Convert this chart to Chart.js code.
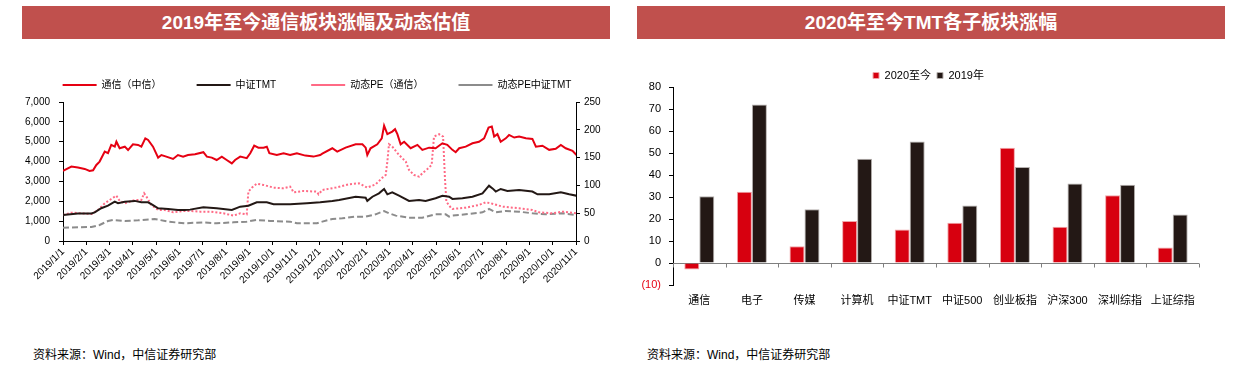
<!DOCTYPE html>
<html>
<head>
<meta charset="utf-8">
<script src="https://cdn.jsdelivr.net/npm/chart.js@4.4.0/dist/chart.umd.min.js"></script>
<style>
  body { margin: 0; width: 1238px; height: 375px; background: #fff; position: relative; overflow: hidden;
         font-family: "Liberation Sans", Arial, "Noto Sans CJK SC", sans-serif; }
  .titlebar { position: absolute; top: 6px; height: 33px; line-height: 33px; background: #c0504d; color: #fff;
              font-weight: bold; font-size: 19px; text-align: center; }
  .source { position: absolute; top: 345px; font-size: 12px; color: #000; }
  canvas { position: absolute; }
</style>
</head>
<body>
<div class="titlebar" style="left:22px;width:588px">2019年至今通信板块涨幅及动态估值</div>
<div class="titlebar" style="left:637px;width:588px">2020年至今TMT各子板块涨幅</div>
<canvas id="lineChart" width="620" height="261" style="left:0;top:40px"></canvas>
<canvas id="barChart" width="608" height="271" style="left:630px;top:40px"></canvas>
<div class="source" style="left:33px">资料来源：Wind，中信证券研究部</div>
<div class="source" style="left:647px">资料来源：Wind，中信证券研究部</div>
<script>
const FONT = '"Liberation Sans", Arial, "Noto Sans CJK SC", sans-serif';

// ---- left chart: month index (0 = 2019/1/1) and value pairs
const monthLabels = ['2019/1/1','2019/2/1','2019/3/1','2019/4/1','2019/5/1','2019/6/1','2019/7/1','2019/8/1',
  '2019/9/1','2019/10/1','2019/11/1','2019/12/1','2020/1/1','2020/2/1','2020/3/1','2020/4/1','2020/5/1',
  '2020/6/1','2020/7/1','2020/8/1','2020/9/1','2020/10/1','2020/11/1'];

const telecomIndex = [[0,3530],[0.36,3750],[0.64,3700],[0.93,3630],[1.14,3530],[1.29,3560],[1.43,3830],[1.57,4000],
  [1.79,4500],[1.93,4420],[2.07,4840],[2.22,4750],[2.29,5000],[2.43,4670],[2.65,4750],[2.79,4580],[3.0,4870],
  [3.22,4840],[3.36,4750],[3.53,5170],[3.65,5090],[3.86,4750],[4.08,4200],[4.22,4330],[4.43,4250],[4.72,4130],
  [4.93,4330],[5.15,4250],[5.36,4330],[5.66,4370],[6.02,4470],[6.17,4250],[6.38,4200],[6.59,4080],[6.81,4250],
  [7.02,4080],[7.24,3910],[7.38,4080],[7.6,4250],[7.88,4170],[8.03,4420],[8.2,4800],[8.38,4700],[8.6,4700],
  [8.74,4750],[8.85,4420],[9.17,4330],[9.46,4420],[9.74,4330],[10.03,4420],[10.39,4300],[10.74,4250],[11.03,4330],
  [11.12,4400],[11.55,4670],[11.76,4500],[12.12,4700],[12.55,4870],[12.84,4870],[12.98,4700],[13.05,4330],
  [13.19,4670],[13.48,4870],[13.67,5170],[13.77,5810],[13.91,5380],[14.12,5510],[14.24,5630],[14.34,5380],
  [14.48,4870],[14.63,5000],[14.91,4670],[15.2,4840],[15.41,4590],[15.7,4700],[15.98,4670],[16.27,4920],
  [16.48,4840],[16.7,4590],[16.84,4470],[16.99,4670],[17.27,4750],[17.56,4920],[17.84,5000],[18.06,5170],
  [18.25,5710],[18.39,5760],[18.49,5260],[18.63,5380],[18.77,5000],[18.99,5170],[19.13,5340],[19.35,5210],
  [19.56,5260],[19.85,5170],[20.13,5140],[20.28,4750],[20.56,4800],[20.85,4590],[21.13,4640],[21.35,4840],
  [21.56,4670],[21.85,4540],[22.02,4330]];

const tmtIndex = [[0,1310],[0.64,1390],[1.22,1390],[1.36,1440],[1.64,1650],[1.93,1780],[2.22,1980],[2.36,1900],
  [2.65,1980],[3.08,2020],[3.36,1950],[3.65,1950],[3.86,1810],[4.08,1650],[4.51,1610],[4.93,1560],[5.22,1560],
  [5.45,1580],[6.02,1700],[6.59,1650],[7.24,1560],[7.6,1730],[7.95,1780],[8.31,1950],[8.74,1950],[9.03,1850],
  [9.74,1850],[10.46,1900],[11.03,1950],[11.55,2020],[11.84,2070],[12.55,2230],[12.98,2180],[13.05,2020],
  [13.27,2230],[13.55,2400],[13.77,2620],[13.91,2350],[14.12,2450],[14.41,2280],[14.84,2020],[15.27,2070],
  [15.55,2020],[15.98,2150],[16.27,2280],[16.56,2230],[16.7,2120],[17.13,2150],[17.56,2230],[17.99,2400],
  [18.27,2790],[18.42,2650],[18.56,2490],[18.77,2620],[19.06,2520],[19.56,2570],[20.13,2490],[20.35,2350],
  [20.85,2350],[21.35,2450],[21.71,2350],[22.02,2280]];

const telecomPE = [[0,46.8],[0.36,51],[1.22,48.6],[1.5,55.8],[1.79,67.8],[2.07,75.6],[2.29,81.6],[2.43,72],
  [2.65,67.8],[3.08,73.8],[3.36,73.8],[3.48,85.8],[3.58,79.8],[3.79,64.8],[4.08,55.8],[4.36,55.8],[4.72,51.6],
  [5.15,54],[5.45,54],[5.88,52.8],[6.31,52.8],[6.88,49.8],[7.31,45.6],[7.6,49.8],[7.88,48],[7.95,88.8],[8.1,96],
  [8.31,103.2],[8.6,100.8],[9.03,96],[9.46,94.8],[9.74,97.8],[9.81,93.6],[9.88,87.6],[10.31,90],[10.89,88.8],
  [10.96,84],[11.12,91.8],[11.69,96],[12.26,102],[12.69,103.8],[13.05,96],[13.41,102],[13.7,114],[13.84,118.8],
  [13.91,142.8],[13.98,174],[14.12,169.8],[14.41,154.8],[14.7,142.8],[14.84,127.8],[15.05,118.8],[15.27,115.8],
  [15.41,121.8],[15.63,129.6],[15.81,136.8],[15.91,187.8],[16.13,192],[16.3,187.8],[16.38,112.8],[16.44,70.8],
  [16.63,60],[16.7,57.6],[17.27,60],[17.84,64.8],[18.13,69.6],[18.35,67.8],[18.85,61.8],[19.56,58.8],[20.13,55.8],
  [20.42,51.6],[20.99,49.8],[21.42,52.8],[22.02,49.8]];

const tmtPE = [[0,24],[1.22,25.2],[1.57,28.8],[1.93,36],[2.15,37.8],[2.65,36],[3.22,37.2],[3.93,39.6],[4.51,34.8],
  [5.22,31.8],[6.02,33.6],[6.59,31.8],[7.31,33.6],[7.88,34.8],[8.31,37.8],[8.88,36],[9.74,34.8],[10.03,31.8],
  [10.89,31.8],[11.12,34.8],[11.55,39.6],[11.98,40.8],[12.55,43.8],[12.98,43.8],[13.41,48],[13.77,54],[13.98,49.8],
  [14.27,45.6],[14.84,42],[15.41,42],[15.98,48],[16.41,48],[16.56,43.8],[16.7,45.6],[17.27,48],[17.99,51.6],
  [18.27,57.6],[18.56,51.6],[18.99,54],[19.56,52.8],[20.13,49.8],[20.7,48],[21.42,49.8],[22.02,46.8]];

// ---- right chart
const sectors = ['通信','电子','传媒','计算机','中证TMT','中证500','创业板指','沪深300','深圳综指','上证综指'];
const ytd2020 = [-2.9, 32.4, 7.6, 19.1, 15.2, 18.3, 52.4, 16.5, 30.8, 7.0];
const full2019 = [30.3, 72.1, 24.4, 47.4, 55.2, 26.1, 43.6, 36.1, 35.6, 22.0];

const toPoints = arr => arr.map(p => ({x: p[0], y: p[1]}));

// grow/shrink the legend box so the plot starts where it should, and nudge it sideways
function legendFit(delta, dx) {
  return {
    id: 'legendFit',
    beforeInit(chart) {
      const fit = chart.legend.fit;
      chart.legend.fit = function () { fit.call(this); this.height += delta; };
    },
    afterLayout(chart) {
      chart.legend.left += dx;
      chart.legend.right += dx;
    }
  };
}

const axisTicks = { color: '#000', font: { family: FONT, size: 10 } };

new Chart(document.getElementById('lineChart'), {
  type: 'line',
  data: {
    datasets: [
      { label: '通信（中信）', data: toPoints(telecomIndex), yAxisID: 'y', borderColor: '#e60012', borderWidth: 2 },
      { label: '中证TMT', data: toPoints(tmtIndex), yAxisID: 'y', borderColor: '#231815', borderWidth: 2 },
      { label: '动态PE（通信）', data: toPoints(telecomPE), yAxisID: 'y1', borderColor: '#ff6a85', borderWidth: 2, borderDash: [2, 2] },
      { label: '动态PE中证TMT', data: toPoints(tmtPE), yAxisID: 'y1', borderColor: '#8c8c8c', borderWidth: 2, borderDash: [6, 3] }
    ]
  },
  options: {
    responsive: false,
    animation: false,
    layout: { padding: { top: 5, left: 0, right: 0, bottom: 0 } },
    elements: { point: { radius: 0 }, line: { tension: 0, fill: false } },
    plugins: {
      tooltip: { enabled: false },
      legend: {
        labels: { usePointStyle: true, pointStyle: 'line', pointStyleWidth: 34, color: '#000', padding: 35,
                  font: { family: FONT, size: 10 } }
      }
    },
    scales: {
      x: {
        type: 'linear', min: 0, max: 22,
        grid: { drawOnChartArea: false, color: '#000', tickLength: 4 },
        border: { color: '#000' },
        ticks: { ...axisTicks, stepSize: 1, autoSkip: false, minRotation: 45, maxRotation: 45, padding: 1,
                 callback: v => monthLabels[v] },
        afterFit: s => { s.height = 60; }
      },
      y: {
        min: 0, max: 7000,
        grid: { drawOnChartArea: false, color: '#000', tickLength: 4 },
        border: { color: '#000' },
        ticks: { ...axisTicks, stepSize: 1000, padding: 9, callback: v => v.toLocaleString('en-US') },
        afterFit: s => { s.width = 63; }
      },
      y1: {
        position: 'right', min: 0, max: 250,
        grid: { drawOnChartArea: false, color: '#000', tickLength: 4 },
        border: { color: '#000' },
        ticks: { ...axisTicks, stepSize: 50, padding: 4 },
        afterFit: s => { s.width = 44; }
      }
    }
  },
  plugins: [legendFit(2, 7)]
});

// zero line with category separators
const zeroAxis = {
  id: 'zeroAxis',
  beforeDatasetsDraw(chart) {
    const { ctx, chartArea, scales: { x, y } } = chart;
    const y0 = Math.round(y.getPixelForValue(0)) + 0.5;
    ctx.save();
    ctx.strokeStyle = '#7f7f7f';
    ctx.lineWidth = 1;
    ctx.beginPath();
    ctx.moveTo(chartArea.left, y0);
    ctx.lineTo(chartArea.right, y0);
    for (let i = 0; i <= sectors.length; i++) {
      let px;
      if (i === 0) px = chartArea.left;
      else if (i === sectors.length) px = chartArea.right;
      else px = (x.getPixelForValue(i - 1) + x.getPixelForValue(i)) / 2;
      px = Math.round(px) + 0.5;
      ctx.moveTo(px, y0);
      ctx.lineTo(px, y0 + 4);
    }
    ctx.stroke();
    ctx.restore();
  }
};

new Chart(document.getElementById('barChart'), {
  type: 'bar',
  data: {
    labels: sectors,
    datasets: [
      { label: '2020至今', data: ytd2020, backgroundColor: '#d7000f', borderColor: '#f0a3a7', borderWidth: 1 },
      { label: '2019年', data: full2019, backgroundColor: '#231815', borderColor: '#b5b0ae', borderWidth: 1 }
    ]
  },
  options: {
    responsive: false,
    animation: false,
    layout: { padding: { top: 24, left: 0, right: 39, bottom: 0 } },
    datasets: { bar: { categoryPercentage: 0.57, barPercentage: 1.0 } },
    plugins: {
      tooltip: { enabled: false },
      legend: {
        labels: { boxWidth: 6, boxHeight: 6, color: '#000', padding: 6, font: { family: FONT, size: 11 } }
      }
    },
    scales: {
      x: {
        grid: { display: false, drawTicks: false },
        border: { display: false },
        ticks: { color: '#000', font: { family: FONT, size: 11 }, padding: 9, autoSkip: false, maxRotation: 0 },
        afterFit: s => { s.height = 26; }
      },
      y: {
        min: -10, max: 80,
        grid: { drawOnChartArea: false, color: '#000', tickLength: 4 },
        border: { color: '#000' },
        ticks: {
          stepSize: 10, padding: 8, font: { family: FONT, size: 11 },
          color: c => (c.tick && c.tick.value < 0 ? '#e60012' : '#000'),
          callback: v => (v < 0 ? '(' + Math.abs(v) + ')' : v)
        },
        afterFit: s => { s.width = 43; }
      }
    }
  },
  plugins: [legendFit(-4, 14), zeroAxis]
});
</script>
</body>
</html>
